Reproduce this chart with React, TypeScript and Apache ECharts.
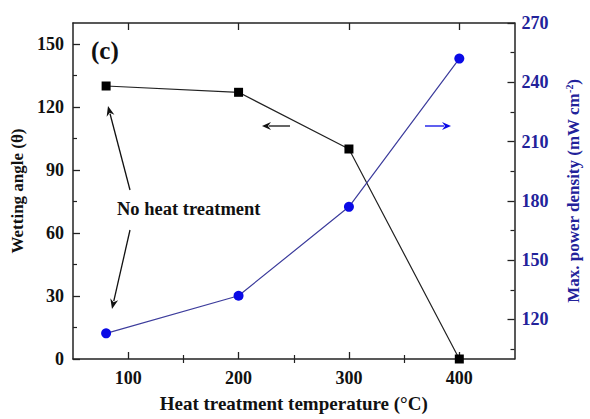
import React, { useEffect, useRef } from "react";
import * as echarts from "echarts";

const temperatures = [80, 200, 300, 400];
const wettingAngle = [130, 127, 100, 0];
const powerDensity = [113, 132, 177, 252];

const xMajorTicks = [100, 200, 300, 400];
const xMinorTicks = [150, 250, 350];
const leftMajorTicks = [0, 30, 60, 90, 120, 150];
const leftMinorTicks = [15, 45, 75, 105, 135];
const rightMajorTicks = [120, 150, 180, 210, 240, 270];
const rightMinorTicks = [105, 135, 165, 195, 225, 255];

const FONT = "Liberation Serif";
const BLUE_TEXT = "#22229a";
const AXIS_COLOR = "#222";

function arrow(x1: number, y1: number, x2: number, y2: number, color: string, head = 10, w = 4) {
  const dx = x2 - x1;
  const dy = y2 - y1;
  const len = Math.sqrt(dx * dx + dy * dy);
  const ux = dx / len;
  const uy = dy / len;
  const bx = x2 - ux * head;
  const by = y2 - uy * head;
  const px = -uy * w;
  const py = ux * w;
  return [
    {
      type: "line",
      shape: { x1, y1, x2: bx + ux * 2, y2: by + uy * 2 },
      style: { stroke: color, lineWidth: 1.3 },
      silent: true,
    },
    {
      type: "polygon",
      shape: {
        points: [
          [x2, y2],
          [bx + px, by + py],
          [bx + ux * 3, by + uy * 3],
          [bx - px, by - py],
        ],
      },
      style: { fill: color },
      silent: true,
    },
  ];
}

function baseAxis(extra: any) {
  return {
    type: "value",
    splitLine: { show: false },
    axisLine: { show: true, onZero: false, lineStyle: { color: AXIS_COLOR, width: 1.5 } },
    ...extra,
  };
}

export default function App() {
  const ref = useRef<HTMLDivElement>(null);
  useEffect(() => {
    if (!ref.current) return;
    const chart = echarts.init(ref.current, undefined, { renderer: "svg" });
    const labelStyle = { fontFamily: FONT, fontWeight: "bold", fontSize: 18, color: "#111" };
    const option: any = {
      animation: false,
      backgroundColor: "#fff",
      textStyle: { fontFamily: FONT },
      grid: { left: 73, right: 72, top: 23, bottom: 60 },
      xAxis: [
        baseAxis({
          position: "bottom",
          min: 50,
          max: 450,
          axisTick: { show: true, inside: true, length: 7, customValues: xMajorTicks, lineStyle: { color: AXIS_COLOR, width: 1.3 } },
          axisLabel: { ...labelStyle, margin: 10, customValues: xMajorTicks },
          name: "Heat treatment temperature (°C)",
          nameLocation: "middle",
          nameGap: 35,
          nameTextStyle: { fontFamily: FONT, fontWeight: "bold", fontSize: 19, color: "#111" },
        }),
        baseAxis({
          position: "bottom",
          min: 50,
          max: 450,
          axisLine: { show: false },
          axisTick: { show: true, inside: true, length: 4, customValues: xMinorTicks, lineStyle: { color: AXIS_COLOR, width: 1.2 } },
          axisLabel: { show: false },
        }),
        baseAxis({
          position: "top",
          min: 50,
          max: 450,
          axisTick: { show: true, inside: true, length: 7, customValues: xMajorTicks, lineStyle: { color: AXIS_COLOR, width: 1.3 } },
          axisLabel: { show: false },
        }),
        baseAxis({
          position: "top",
          min: 50,
          max: 450,
          axisLine: { show: false },
          axisTick: { show: true, inside: true, length: 4, customValues: xMinorTicks, lineStyle: { color: AXIS_COLOR, width: 1.2 } },
          axisLabel: { show: false },
        }),
      ],
      yAxis: [
        baseAxis({
          position: "left",
          min: 0,
          max: 160,
          axisTick: { show: true, inside: true, length: 7, customValues: leftMajorTicks, lineStyle: { color: AXIS_COLOR, width: 1.3 } },
          axisLabel: { ...labelStyle, margin: 9, customValues: leftMajorTicks },
          name: "Wetting angle (θ)",
          nameLocation: "middle",
          nameGap: 43,
          nameTextStyle: { fontFamily: FONT, fontWeight: "bold", fontSize: 17, color: "#111" },
        }),
        baseAxis({
          position: "left",
          min: 0,
          max: 160,
          axisLine: { show: false },
          axisTick: { show: true, inside: true, length: 4, customValues: leftMinorTicks, lineStyle: { color: AXIS_COLOR, width: 1.2 } },
          axisLabel: { show: false },
        }),
        baseAxis({
          position: "right",
          min: 100,
          max: 270,
          axisTick: { show: true, inside: true, length: 7, customValues: rightMajorTicks, lineStyle: { color: AXIS_COLOR, width: 1.3 } },
          axisLabel: { ...labelStyle, color: BLUE_TEXT, margin: 7, customValues: rightMajorTicks },
          name: "Max. power density (mW cm{sup|-2})",
          nameLocation: "middle",
          nameGap: 50,
          nameRotate: 90,
          nameTextStyle: {
            fontFamily: FONT,
            fontWeight: "bold",
            fontSize: 17,
            color: BLUE_TEXT,
            rich: {
              sup: { fontFamily: FONT, fontWeight: "bold", fontSize: 10, color: BLUE_TEXT, verticalAlign: "top", padding: [0, 0, 8, 0] },
            },
          },
        }),
        baseAxis({
          position: "right",
          min: 100,
          max: 270,
          axisLine: { show: false },
          axisTick: { show: true, inside: true, length: 4, customValues: rightMinorTicks, lineStyle: { color: AXIS_COLOR, width: 1.2 } },
          axisLabel: { show: false },
        }),
      ],
      series: [
        {
          type: "line",
          xAxisIndex: 0,
          yAxisIndex: 0,
          data: temperatures.map((t, i) => [t, wettingAngle[i]]),
          symbol: "rect",
          symbolSize: 9,
          itemStyle: { color: "#000" },
          lineStyle: { color: "#222", width: 1.2 },
          z: 3,
        },
        {
          type: "line",
          xAxisIndex: 0,
          yAxisIndex: 2,
          data: temperatures.map((t, i) => [t, powerDensity[i]]),
          symbol: "circle",
          symbolSize: 10,
          itemStyle: { color: "#0a0ae6" },
          lineStyle: { color: "#3c3c9c", width: 1.2 },
          z: 3,
        },
      ],
      graphic: [
        {
          type: "text",
          left: 91,
          top: 38,
          style: { text: "(c)", fontFamily: FONT, fontWeight: "bold", fontSize: 25, fill: "#111" },
        },
        {
          type: "text",
          left: 117,
          top: 199,
          style: { text: "No heat treatment", fontFamily: FONT, fontWeight: "bold", fontSize: 18.5, fill: "#111" },
        },
        ...arrow(130, 190, 108, 106, "#111"),
        ...arrow(130, 230, 112, 309, "#111"),
        ...arrow(290, 126, 262, 126, "#111", 9, 4),
        ...arrow(425, 126, 451, 126, "#0a0ae6", 9, 4),
      ],
    };
    chart.setOption(option);
    return () => chart.dispose();
  }, []);
  return (
    <div
      ref={ref}
      style={{ position: "absolute", left: 0, top: 0, width: 590, height: 419 }}
    />
  );
}
